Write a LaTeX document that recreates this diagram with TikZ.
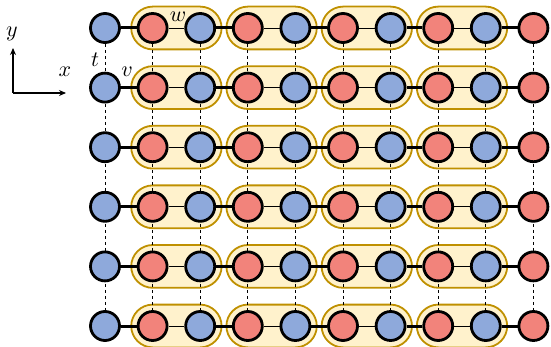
\documentclass[tikz,border=0pt]{standalone}
\usepackage{xcolor}
\usepackage{amsmath}
\usepackage{graphicx}
\usetikzlibrary{positioning, arrows.meta, fit, backgrounds}

\definecolor{siteblue}{HTML}{8EA9DB}
\definecolor{sitered}{HTML}{F2837B}
\definecolor{pillfill}{HTML}{FFF2CC}
\definecolor{pillline}{HTML}{BF9000}

\newcommand{\biglbl}[1]{\scalebox{2.2}{$#1$}}

\begin{document}
\begin{tikzpicture}[
    x=1pt, y=-1pt,
    site/.style={circle, draw, line width=2.8pt, minimum size=29pt, inner sep=0pt},
    bsite/.style={site, fill=siteblue},
    rsite/.style={site, fill=sitered},
    pill/.style={draw=pillline, fill=pillfill, line width=1.8pt, rounded corners=21.5pt, inner sep=5.5pt},
    strong/.style={line width=3pt},
    weak/.style={line width=0.9pt},
    rung/.style={dashed, line width=0.7pt},
    lbl/.style={inner sep=0pt}
]
\useasboundingbox (0,0) rectangle (551,347);

% lattice sites
\foreach \r in {0,...,5} {
  \foreach \c in {0,...,9} {
    \pgfmathtruncatemacro{\odd}{mod(\c,2)}
    \ifnum\odd=0
      \node[bsite] (n-\r-\c) at ({105+47.6*\c}, {28+59.6*\r}) {};
    \else
      \node[rsite] (n-\r-\c) at ({105+47.6*\c}, {28+59.6*\r}) {};
    \fi
  }
}

\begin{pgfonlayer}{background}
  % dimers
  \foreach \r in {0,...,5} {
    \foreach \a/\b in {1/2, 3/4, 5/6, 7/8} {
      \node[pill, fit=(n-\r-\a)(n-\r-\b)] (p-\r-\a) {};
    }
  }
  % interchain couplings
  \foreach \c in {0,...,9} {
    \draw[rung] (n-0-\c) -- (n-5-\c);
  }
  % chain bonds
  \foreach \r in {0,...,5} {
    \foreach \a/\b in {0/1, 2/3, 4/5, 6/7, 8/9} {
      \draw[strong] (n-\r-\a) -- (n-\r-\b);
    }
    \foreach \a/\b in {1/2, 3/4, 5/6, 7/8} {
      \draw[weak] (n-\r-\a) -- (n-\r-\b);
    }
  }
\end{pgfonlayer}

% couplings
\node[lbl] (lab-t) at (95, 60) {\biglbl{t}};
\node[lbl] (lab-v) at (127, 72) {\biglbl{v}};
\node[lbl] (lab-w) at (178, 17) {\biglbl{w}};

% axes
\coordinate (origin) at (13, 93);
\coordinate (yend) at (13, 48);
\coordinate (xend) at (66, 93);
\draw[line width=1.3pt, -{Stealth[length=7pt, width=6pt]}] (origin) -- (yend);
\draw[line width=1.3pt, -{Stealth[length=7pt, width=6pt]}] (origin) -- (xend);
\node[lbl] (lab-y) at (12, 34) {\biglbl{y}};
\node[lbl] (lab-x) at (65, 72) {\biglbl{x}};
\end{tikzpicture}
\end{document}
